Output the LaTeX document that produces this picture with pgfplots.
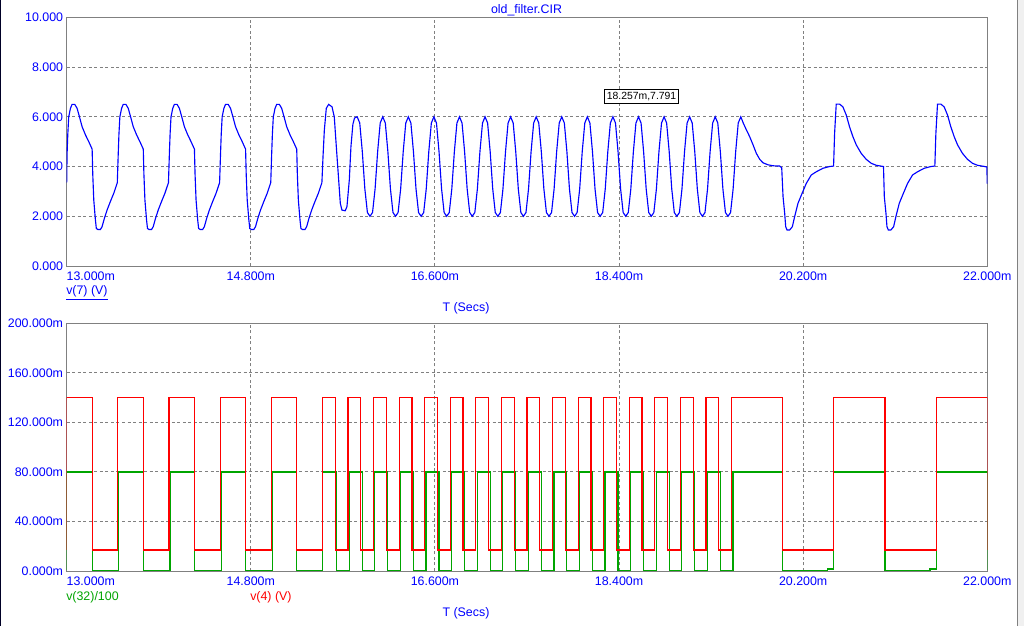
\documentclass[border=0pt]{standalone}
\usepackage{fontspec}
\setmainfont{Liberation Sans}
\usepackage{pgfplots}
\pgfplotsset{compat=1.18}
\definecolor{spblue}{RGB}{0,0,255}
\definecolor{spred}{RGB}{255,0,0}
\definecolor{spgreen}{RGB}{0,165,0}
\definecolor{spgrid}{RGB}{128,128,128}

\pgfplotsset{
  spice/.style={
    scale only axis, anchor=south west, width=690.5pt,
    xmin=13, xmax=22,
    xtick={13,14.8,16.6,18.4,20.2,22},
    xticklabels={\makebox[0pt][l]{13.000m},14.800m,16.600m,18.400m,20.200m,22.000m},
    grid=major,
    major grid style={spgrid, line width=0.75pt, dash pattern=on 2.25pt off 1.9pt},
    axis line style={spgrid, line width=0.75pt},
    major tick length=0pt,
    tick label style={spblue, font=\fontsize{9.3}{11}\selectfont},
    xticklabel style={anchor=north, inner sep=0pt, yshift=-4.3pt},
    yticklabel style={anchor=east, inner sep=0pt, xshift=-2.5pt},
  }
}

\begin{document}
\begin{tikzpicture}[font=\fontsize{9.3}{11}\selectfont]
\fill[white] (0,0) rectangle (768pt,469.5pt);
\path[use as bounding box] (0,0) rectangle (768pt,469.5pt);
\fill[black!85!blue] (0,0) rectangle (0.9pt,469.5pt);
\fill[gray!12] (763.2pt,0) rectangle (768pt,469.5pt);
\draw[gray, line width=0.75pt] (763.2pt,0) -- (763.2pt,469.5pt);

% ---- top panel: v(7)
\begin{axis}[spice, at={(50pt,270pt)}, height=186.5pt,
  ymin=0, ymax=10, ytick={0,2,4,6,8,10},
  yticklabels={0.000,2.000,4.000,6.000,8.000,10.000}]
\addplot[spblue, line width=0.85pt] coordinates {
(13.000,3.35)
(13.004,4.5)(13.011,5.3)(13.020,6.0)(13.037,6.34)(13.053,6.5)(13.079,6.5)(13.102,6.34)(13.125,6.0)(13.151,5.6)(13.184,5.27)(13.216,5.0)(13.249,4.7)(13.255,3.7)(13.265,2.65)(13.281,1.85)(13.290,1.51)(13.304,1.47)(13.330,1.47)(13.346,1.58)(13.369,1.92)(13.395,2.25)(13.427,2.59)(13.460,2.92)(13.495,3.35)
(13.504,4.5)(13.511,5.3)(13.520,6.0)(13.537,6.34)(13.553,6.5)(13.579,6.5)(13.602,6.34)(13.625,6.0)(13.651,5.6)(13.684,5.27)(13.716,5.0)(13.749,4.7)(13.755,3.7)(13.765,2.65)(13.781,1.85)(13.790,1.51)(13.804,1.47)(13.830,1.47)(13.846,1.58)(13.869,1.92)(13.895,2.25)(13.927,2.59)(13.960,2.92)(13.995,3.35)
(14.004,4.5)(14.011,5.3)(14.020,6.0)(14.037,6.34)(14.053,6.5)(14.079,6.5)(14.102,6.34)(14.125,6.0)(14.151,5.6)(14.184,5.27)(14.216,5.0)(14.249,4.7)(14.255,3.7)(14.265,2.65)(14.281,1.85)(14.290,1.51)(14.304,1.47)(14.330,1.47)(14.346,1.58)(14.369,1.92)(14.395,2.25)(14.427,2.59)(14.460,2.92)(14.495,3.35)
(14.504,4.5)(14.511,5.3)(14.520,6.0)(14.537,6.34)(14.553,6.5)(14.579,6.5)(14.602,6.34)(14.625,6.0)(14.651,5.6)(14.684,5.27)(14.716,5.0)(14.749,4.7)(14.755,3.7)(14.765,2.65)(14.781,1.85)(14.790,1.51)(14.804,1.47)(14.830,1.47)(14.846,1.58)(14.869,1.92)(14.895,2.25)(14.927,2.59)(14.960,2.92)(14.995,3.35)
(15.004,4.5)(15.011,5.3)(15.020,6.0)(15.037,6.34)(15.053,6.5)(15.079,6.5)(15.102,6.34)(15.125,6.0)(15.151,5.6)(15.184,5.27)(15.216,5.0)(15.249,4.7)(15.255,3.7)(15.265,2.65)(15.281,1.85)(15.290,1.51)(15.304,1.47)(15.330,1.47)(15.346,1.58)(15.369,1.92)(15.395,2.25)(15.427,2.59)(15.460,2.92)(15.495,3.35)
(15.506,4.4)(15.519,5.47)(15.538,6.34)(15.561,6.5)(15.594,6.4)(15.616,6.0)(15.636,4.8)(15.659,3.46)(15.675,2.52)(15.691,2.25)(15.723,2.22)(15.740,2.39)(15.763,3.46)(15.779,4.8)(15.798,5.7)(15.814,5.95)(15.840,6.0)
(15.865,5.75)(15.89,4.6)(15.915,3.1)(15.94,2.15)(15.965,2.0)(15.99,2.15)(16.015,3.1)(16.04,4.6)(16.065,5.75)(16.09,6.0)
(16.115,5.75)(16.14,4.6)(16.165,3.1)(16.19,2.15)(16.215,2.0)(16.24,2.15)(16.265,3.1)(16.29,4.6)(16.315,5.75)(16.34,6.0)
(16.365,5.75)(16.39,4.6)(16.415,3.1)(16.44,2.15)(16.465,2.0)(16.49,2.15)(16.515,3.1)(16.54,4.6)(16.565,5.75)(16.59,6.0)
(16.615,5.75)(16.64,4.6)(16.665,3.1)(16.69,2.15)(16.715,2.0)(16.74,2.15)(16.765,3.1)(16.79,4.6)(16.815,5.75)(16.84,6.0)
(16.865,5.75)(16.89,4.6)(16.915,3.1)(16.94,2.15)(16.965,2.0)(16.99,2.15)(17.015,3.1)(17.04,4.6)(17.065,5.75)(17.09,6.0)
(17.115,5.75)(17.14,4.6)(17.165,3.1)(17.19,2.15)(17.215,2.0)(17.24,2.15)(17.265,3.1)(17.29,4.6)(17.315,5.75)(17.34,6.0)
(17.365,5.75)(17.39,4.6)(17.415,3.1)(17.44,2.15)(17.465,2.0)(17.49,2.15)(17.515,3.1)(17.54,4.6)(17.565,5.75)(17.59,6.0)
(17.615,5.75)(17.64,4.6)(17.665,3.1)(17.69,2.15)(17.715,2.0)(17.74,2.15)(17.765,3.1)(17.79,4.6)(17.815,5.75)(17.84,6.0)
(17.865,5.75)(17.89,4.6)(17.915,3.1)(17.94,2.15)(17.965,2.0)(17.99,2.15)(18.015,3.1)(18.04,4.6)(18.065,5.75)(18.09,6.0)
(18.115,5.75)(18.14,4.6)(18.165,3.1)(18.19,2.15)(18.215,2.0)(18.24,2.15)(18.265,3.1)(18.29,4.6)(18.315,5.75)(18.34,6.0)
(18.365,5.75)(18.39,4.6)(18.415,3.1)(18.44,2.15)(18.465,2.0)(18.49,2.15)(18.515,3.1)(18.54,4.6)(18.565,5.75)(18.59,6.0)
(18.615,5.75)(18.64,4.6)(18.665,3.1)(18.69,2.15)(18.715,2.0)(18.74,2.15)(18.765,3.1)(18.79,4.6)(18.815,5.75)(18.84,6.0)
(18.865,5.75)(18.89,4.6)(18.915,3.1)(18.94,2.15)(18.965,2.0)(18.99,2.15)(19.015,3.1)(19.04,4.6)(19.065,5.75)(19.09,6.0)
(19.115,5.75)(19.14,4.6)(19.165,3.1)(19.19,2.15)(19.215,2.0)(19.24,2.15)(19.265,3.1)(19.29,4.6)(19.315,5.75)(19.34,6.0)
(19.365,5.75)(19.39,4.6)(19.415,3.1)(19.44,2.15)(19.465,2.0)(19.49,2.15)(19.515,3.1)(19.54,4.6)(19.565,5.75)(19.59,6.0)
(19.615,5.74)(19.645,5.47)(19.677,5.2)(19.71,4.87)(19.742,4.53)(19.775,4.29)(19.807,4.15)(19.856,4.07)(19.905,4.03)(19.97,4.02)(19.99,3.95)
(20.003,2.79)(20.019,2.12)(20.029,1.58)(20.042,1.45)(20.068,1.45)(20.094,1.58)(20.116,1.98)(20.149,2.52)(20.182,2.85)(20.23,3.32)(20.279,3.66)(20.328,3.79)(20.393,3.93)(20.458,4.0)(20.497,4.02)
(20.507,5.33)(20.523,6.51)(20.556,6.51)(20.588,6.4)(20.621,6.07)(20.653,5.6)(20.686,5.2)(20.719,4.87)(20.767,4.53)(20.816,4.29)(20.865,4.13)(20.914,4.05)(20.985,4.0)
(20.993,2.79)(21.009,2.12)(21.019,1.58)(21.032,1.45)(21.058,1.45)(21.084,1.58)(21.106,1.98)(21.139,2.52)(21.172,2.85)(21.22,3.32)(21.269,3.66)(21.318,3.79)(21.383,3.93)(21.448,4.0)(21.487,4.02)
(21.497,5.33)(21.513,6.51)(21.546,6.51)(21.578,6.4)(21.611,6.07)(21.643,5.6)(21.676,5.2)(21.709,4.87)(21.757,4.53)(21.806,4.29)(21.855,4.13)(21.904,4.05)(21.975,4.0)(21.995,3.98)(22.0,3.3)
};
\node[draw=black, fill=white, line width=0.75pt, inner xsep=2pt, inner ysep=1.5pt,
  text height=5.8pt, text depth=1.2pt, font=\fontsize{7.8}{9}\selectfont]
  at (axis cs:18.62,6.81) {18.257m,7.791};
\end{axis}

% ---- bottom panel: v(32)/100 and v(4)
\begin{axis}[spice, at={(50pt,41.25pt)}, height=185.75pt,
  ymin=0, ymax=200, ytick={0,40,80,120,160,200},
  yticklabels={0.000m,40.000m,80.000m,120.000m,160.000m,200.000m}]
\addplot[spgreen, line width=0.9pt] coordinates {
(13,0.5)(13,80)(13.25,80)(13.25,0.5)(13.51,0.5)(13.51,80)(13.75,80)(13.75,0.5)(14.01,0.5)(14.01,80)(14.25,80)(14.25,0.5)
(14.51,0.5)(14.51,80)(14.75,80)(14.75,0.5)(15.01,0.5)(15.01,80)(15.25,80)(15.25,0.5)(15.5,0.5)(15.5,80)
(15.64,80)(15.64,0.5)(15.765,0.5)(15.765,80)(15.89,80)(15.89,0.5)(16.013,0.5)(16.013,80)(16.14,80)(16.14,0.5)
(16.263,0.5)(16.263,80)(16.39,80)(16.39,0.5)(16.513,0.5)(16.513,80)(16.64,80)(16.64,0.5)(16.763,0.5)(16.763,80)
(16.89,80)(16.89,0.5)(17.013,0.5)(17.013,80)(17.14,80)(17.14,0.5)(17.263,0.5)(17.263,80)(17.39,80)(17.39,0.5)
(17.513,0.5)(17.513,80)(17.64,80)(17.64,0.5)(17.763,0.5)(17.763,80)(17.89,80)(17.89,0.5)(18.013,0.5)(18.013,80)
(18.14,80)(18.14,0.5)(18.263,0.5)(18.263,80)(18.39,80)(18.39,0.5)(18.513,0.5)(18.513,80)(18.64,80)(18.64,0.5)
(18.763,0.5)(18.763,80)(18.89,80)(18.89,0.5)(19.013,0.5)(19.013,80)(19.14,80)(19.14,0.5)(19.263,0.5)(19.263,80)
(19.39,80)(19.39,0.5)(19.513,0.5)(19.513,80)(20,80)(20,0.3)(20.44,0.3)(20.44,1.6)(20.5,1.6)(20.5,80)
(21,80)(21,0.3)(21.44,0.3)(21.44,1.6)(21.5,1.6)(21.5,80)(22,80)(22,0.5)
};
\addplot[spred, line width=0.9pt] coordinates {
(13,17)(13,140)(13.25,140)(13.25,17)(13.5,17)(13.5,140)(13.75,140)(13.75,17)(14,17)(14,140)(14.25,140)(14.25,17)
(14.5,17)(14.5,140)(14.75,140)(14.75,17)(15,17)(15,140)(15.25,140)(15.25,17)(15.5,17)(15.5,140)
(15.625,140)(15.625,17)(15.75,17)(15.75,140)(15.875,140)(15.875,17)(16,17)(16,140)(16.125,140)(16.125,17)
(16.25,17)(16.25,140)(16.375,140)(16.375,17)(16.5,17)(16.5,140)(16.625,140)(16.625,17)(16.75,17)(16.75,140)
(16.875,140)(16.875,17)(17,17)(17,140)(17.125,140)(17.125,17)(17.25,17)(17.25,140)(17.375,140)(17.375,17)
(17.5,17)(17.5,140)(17.625,140)(17.625,17)(17.75,17)(17.75,140)(17.875,140)(17.875,17)(18,17)(18,140)
(18.125,140)(18.125,17)(18.25,17)(18.25,140)(18.375,140)(18.375,17)(18.5,17)(18.5,140)(18.625,140)(18.625,17)
(18.75,17)(18.75,140)(18.875,140)(18.875,17)(19,17)(19,140)(19.125,140)(19.125,17)(19.25,17)(19.25,140)
(19.375,140)(19.375,17)(19.5,17)(19.5,140)(20,140)(20,17)(20.5,17)(20.5,140)(21,140)(21,17)(21.5,17)(21.5,140)(22,140)(22,17)
};
\end{axis}

% ---- texts
\node[spblue, anchor=base] at (394.9pt,459pt) {old\_filter.CIR};
\node[spblue, anchor=base] at (349.5pt,235.9pt) {T (Secs)};
\node[spblue, anchor=base] at (349.5pt,7pt) {T (Secs)};
\node[spblue, anchor=base west, inner sep=0pt] at (49.5pt,248.3pt) {\underline{v(7) (V)}};
\node[spgreen, anchor=base west, inner sep=0pt] at (49.5pt,19.5pt) {v(32)/100};
\node[spred, anchor=base west, inner sep=0pt] at (187.5pt,19.5pt) {v(4) (V)};
\end{tikzpicture}
\end{document}
